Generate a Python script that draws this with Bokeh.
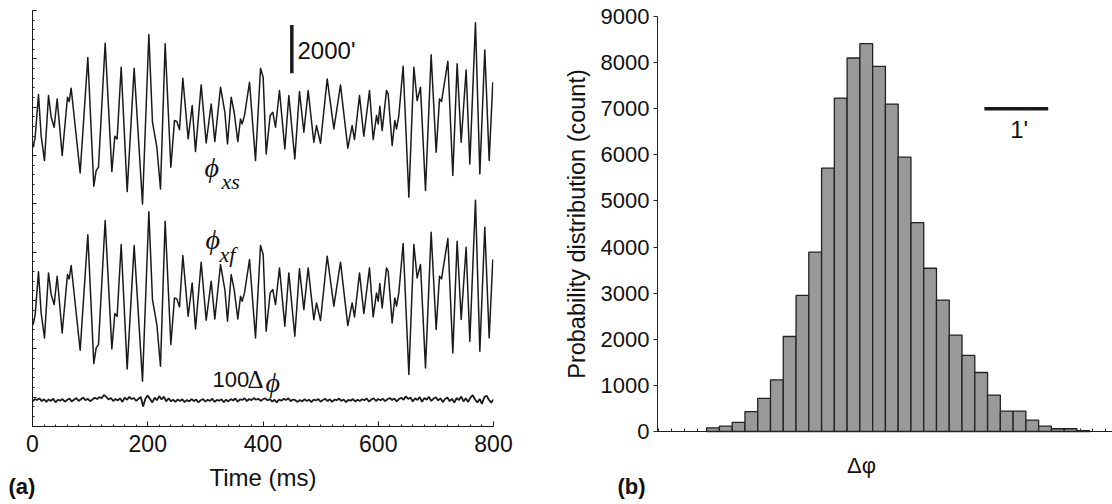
from bokeh.plotting import figure
from bokeh.layouts import row, column
from bokeh.models import (ColumnDataSource, SingleIntervalTicker, Label,
                          CustomJSTickFormatter, Range1d)
from bokeh.embed import file_html
from bokeh.resources import INLINE

# ---------------- data: panel (a) ----------------
# times (ms) of the read-off turning points of the eye-position traces
phi_t = [1.2, 4.6, 10.4, 15.0, 20.8, 27.8, 32.4, 37.6, 42.8, 51.5, 60.7, 63.6, 67.1,
         82.7, 96.0, 106.4, 110.5, 114.5, 126.1, 137.7, 142.9, 146.9, 153.9, 164.3,
         176.4, 190.9, 201.9, 208.2, 215.8, 222.1, 230.2, 240.1, 246.4, 250.5, 255.1,
         260.9, 270.1, 277.1, 282.9, 292.7, 301.4, 310.1, 316.4, 326.3, 333.8, 338.4,
         344.8, 350.0, 356.3, 361.0, 363.8, 367.9, 376.6, 387.0, 395.7, 400.3, 405.5,
         412.4, 417.0, 421.7, 428.6, 437.9, 444.8, 455.2, 463.3, 470.9, 478.4, 488.2,
         492.9, 499.8, 511.4, 523.0, 534.5, 547.2, 554.7, 558.8, 567.5, 575.0, 584.8,
         591.2, 597.0, 599.9, 602.8, 606.8, 614.3, 617.2, 624.1, 628.8, 631.7, 635.7,
         643.2, 653.1, 661.8, 667.5, 673.3, 682.0, 691.8, 700.5, 706.3, 709.8, 720.8,
         729.4, 736.9, 743.9, 752.5, 758.9, 768.7, 776.3, 784.9, 792.5, 798.8]

# phi_xs (arcmin)
phi_xs = [-690, -277, 1491, -207, -1242, 1449, 552, 138, 1311, -1035, 1380, 1201, 1753,
          -1753, 3023, -2305, -1656, -1518, 3617, -1698, -235, -345, 2623, -2526,
          2581, -3037, 3975, 345, -690, -2416, 3589, -1518, 414, 373, 41,
          2167, -345, 1035, -870, 1891, -511, 1104, -456, 1794, 759, -552,
          1380, 759, -456, 483, 276, 621, 2002, -1242, 2581, 2209, -966,
          621, 759, 138, 1656, -759, 1449, -1173, 1615, -69, 1656, -483,
          207, -524, 2139, 69, 1891, -731, 207, -373, 1449, -235, 1656,
          -373, 621, 276, 1007, 0, 1656, 1518, -621, 414, 69, 621,
          2664, -2761, 2623, 1242, 1794, -2484, 3134, -897, 1311, 1201, 2871,
          -1863, 2761, -483, 2512, -1380, 4458, -1794, 3340, -1242, 2002]

# phi_xf (arcmin)
phi_xf = [-690, -277, 1491, -207, -1242, 1449, 552, 138, 1311, -1035, 1380, 1201, 1753,
          -1753, 3023, -2305, -1656, -1518, 3617, -1698, -235, -345, 2623, -2526,
          2581, -3037, 3975, 345, -690, -2416, 3589, -1518, 414, 373, 41,
          2167, -345, 1035, -870, 1891, -511, 1104, -456, 1794, 759, -552,
          1380, 759, -456, 483, 276, 621, 2002, -1242, 2581, 2209, -966,
          621, 759, 138, 1656, -759, 1449, -1173, 1615, -69, 1656, -483,
          207, -524, 2139, 69, 1891, -731, 207, -373, 1449, -235, 1656,
          -373, 621, 276, 1007, 0, 1656, 1518, -621, 414, 69, 621,
          2664, -2761, 2623, 1242, 1794, -2484, 3134, -897, 1311, 1201, 2871,
          -1863, 2761, -483, 2512, -1380, 4458, -1794, 3340, -1242, 2002]

# 100*delta-phi (arcmin), one value every 4 ms from 0 to 800 ms
dphi100 = [-40, 60, 20, 90, -30, 50, -60, 40, -20, 70, -80, 30, -10, 60, -50, 20, 80, -40, 30, 100, -20, 50, 120, 10, 70,
           -30, 40, 110, 60, 140, 90, 230, 150, 40, 100, -20, 60, 0, 90, -60, 120, 30, 150, 60, 100, -20, 70, 140, -250, 80,
           200, 60, -80, 120, 10, 180, 40, 160, -40, 90, -30, 30, -60, 40, -20, 50, -70, 20, -40, 60, -30, 40, -80, 10, 60,
           -50, 30, -20, 70, -60, 20, -10, 50, -70, 30, -40, 60, 0, 80, -50, 40, 20, 90, -30, 60, 10, 100, 30, 70, -20,
           50, 90, 0, 60, -50, 30, -80, 40, -10, 70, 20, 90, -30, 40, 10, -60, 20, -40, 50, -20, 30, -70, 40, 0, 60,
           -50, 20, 70, -30, 50, -60, 30, 10, 80, -20, 40, -70, 20, -10, 60, -40, 30, -20, 50, 10, 80, -50, 40, 90, -20,
           60, 10, 70, -30, 50, 100, 20, 80, -40, 60, 110, 30, 170, 60, 120, -40, 90, 20, 140, -60, 100, 30, 150, -20, 80,
           130, 0, 90, -70, 60, 120, -30, 70, -90, 100, 20, 160, -40, 90, -60, 120, 220, 40, -80, 60, -140, 130, 200, 30, -90,
           40]
dphi_t = list(range(0, 4 * len(dphi100), 4))

# ---------------- data: panel (b) ----------------
bin_centers = [-2.15, -1.95, -1.75, -1.55, -1.35, -1.15, -0.95, -0.75, -0.55, -0.35,
               -0.15, 0.05, 0.25, 0.45, 0.65, 0.85, 1.05, 1.25, 1.45, 1.65,
               1.85, 2.05, 2.25, 2.45, 2.65, 2.85, 3.05, 3.25, 3.45, 3.65]
counts = [80, 115, 200, 430, 720, 1120, 2060, 2950, 3890, 5710,
          7230, 8100, 8410, 7920, 7100, 5950, 4530, 3540, 2850, 2090,
          1650, 1280, 790, 440, 440, 245, 115, 60, 60, 20]

# ---------------- styling / layout constants ----------------
SANS = "Liberation Sans"
SERIF = "Liberation Serif"
INK = "#1a1a1a"
TXT = "#111111"
XS_OFF, XF_OFF, DPHI_OFF = 13030, 5690, 1858
BIN_W = 0.2
blank = CustomJSTickFormatter(code="return ''")


def lab(p, x, y, text, font, size, style="normal", align="left"):
    p.add_layout(Label(x=x, y=y, text=text, text_font=font, text_font_size=size,
                       text_font_style=style, text_color=TXT,
                       text_baseline="middle", text_align=align))


def strip(x0, x1, y_top, width, height):
    s = figure(width=width, height=height, x_range=Range1d(x0, x1),
               y_range=Range1d(504, y_top), output_backend="svg",
               toolbar_location=None, x_axis_location=None, y_axis_location=None,
               min_border=0, frame_align=False)
    s.outline_line_color = None
    s.grid.visible = False
    return s


# ================= panel (a) =================
p1 = figure(width=560, height=461, x_range=Range1d(0, 800), y_range=Range1d(780, 18000),
            output_backend="svg", toolbar_location=None, frame_align=False,
            min_border_left=32, min_border_right=67, min_border_top=10, min_border_bottom=35)
p1.outline_line_color = None
p1.grid.visible = False

src_a = ColumnDataSource(dict(t=phi_t, xs=[v + XS_OFF for v in phi_xs],
                              xf=[v + XF_OFF for v in phi_xf]))
src_d = ColumnDataSource(dict(t=dphi_t, d=[v + DPHI_OFF for v in dphi100]))
p1.line("t", "xs", source=src_a, line_color=INK, line_width=1.5, line_join="round")
p1.line("t", "xf", source=src_a, line_color=INK, line_width=1.5, line_join="round")
p1.line("t", "d", source=src_d, line_color=INK, line_width=1.8)

xa = p1.xaxis[0]
xa.ticker = SingleIntervalTicker(interval=200, num_minor_ticks=10)
xa.major_tick_in, xa.major_tick_out = 5, 0
xa.minor_tick_in, xa.minor_tick_out = 2, 0
xa.axis_line_color = INK
xa.major_tick_line_color = INK
xa.minor_tick_line_color = INK
xa.major_label_text_font = SANS
xa.major_label_text_font_size = "23px"
xa.major_label_text_color = TXT
xa.major_label_standoff = 8

ya = p1.yaxis[0]
ya.ticker = SingleIntervalTicker(interval=2000, num_minor_ticks=5)
ya.formatter = blank
ya.major_label_text_font_size = "1px"
ya.major_tick_in, ya.major_tick_out = 4, 0
ya.minor_tick_in, ya.minor_tick_out = 2, 0
ya.axis_line_color = INK
ya.major_tick_line_color = INK
ya.minor_tick_line_color = INK
ya.major_label_standoff = 0

# scale bar 2000'
p1.segment(x0=[450], y0=[15400], x1=[450], y1=[17400], line_color=INK, line_width=3.5)
lab(p1, 459.9, 16361, "2000'", SANS, "24px")

lab(p1, 298.5, 11519, "\u03d5", SERIF, "28px", "italic")
lab(p1, 328.0, 10922, "xs", SERIF, "22px", "italic")
lab(p1, 300.2, 8518, "\u03d5", SERIF, "28px", "italic")
lab(p1, 324.5, 7901, "xf", SERIF, "22px", "italic")
lab(p1, 312.4, 2706, "100", SANS, "22px")
lab(p1, 373.1, 2706, "\u0394", SERIF, "25px")
lab(p1, 404.3, 2603, "\u03d5", SERIF, "28px", "italic")

s1 = strip(0, 560, 461, 560, 43)
lab(s1, 262.5, 476.5, "Time (ms)", SANS, "24px", align="center")
lab(s1, 8, 486, "(a)", SANS, "22px", "bold")

# ================= panel (b) =================
p2 = figure(width=552, height=447, x_range=Range1d(-3.02, 4.107), y_range=Range1d(0, 9000),
            output_backend="svg", toolbar_location=None, frame_align=False,
            min_border_left=93, min_border_right=0, min_border_top=16, min_border_bottom=16)
p2.outline_line_color = None
p2.grid.visible = False

src_b = ColumnDataSource(dict(x=bin_centers, top=counts))
bars = p2.vbar(x="x", top="top", bottom=0, width=BIN_W, source=src_b,
               fill_color="#999999", line_color="#222222", line_width=1.3)
bars.level = "overlay"

xb = p2.xaxis[0]
xb.ticker = SingleIntervalTicker(interval=0.2, num_minor_ticks=0)
xb.formatter = blank
xb.major_label_text_font_size = "1px"
xb.major_tick_in, xb.major_tick_out = 3, 0
xb.minor_tick_in, xb.minor_tick_out = 0, 0
xb.axis_line_color = "#222222"
xb.major_tick_line_color = "#222222"
xb.major_label_standoff = 0

yb = p2.yaxis[0]
yb.ticker = SingleIntervalTicker(interval=1000, num_minor_ticks=0)
yb.major_tick_in, yb.major_tick_out = 0, 4
yb.minor_tick_in, yb.minor_tick_out = 0, 0
yb.axis_line_color = "#222222"
yb.major_tick_line_color = "#222222"
yb.major_label_text_font = SANS
yb.major_label_text_font_size = "22px"
yb.major_label_text_color = TXT
yb.major_label_standoff = 4
yb.axis_label = "Probability distribution (count)"
yb.axis_label_text_font = SANS
yb.axis_label_text_font_size = "23.5px"
yb.axis_label_text_font_style = "normal"
yb.axis_label_text_color = TXT
yb.axis_label_standoff = 8

# scale bar 1'
p2.segment(x0=[2.10], y0=[7000], x1=[3.10], y1=[7000], line_color=INK, line_width=3.5)
lab(p2, 2.646, 6555, "1'", SANS, "24px", align="center")

s2 = strip(560, 1112, 447, 552, 57)
lab(s2, 861, 465, "\u0394\u03c6", SANS, "22px", align="center")
lab(s2, 617, 486, "(b)", SANS, "22px", "bold")

layout = row(column(p1, s1), column(p2, s2))
open("out.html", "w").write(file_html(layout, INLINE))
